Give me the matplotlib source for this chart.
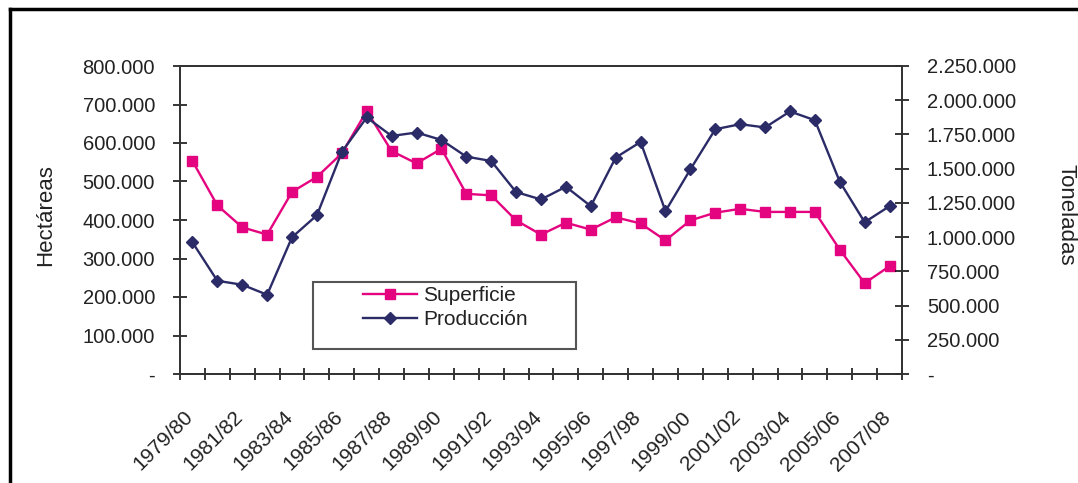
import matplotlib
matplotlib.use("Agg")
import matplotlib.pyplot as plt
from matplotlib.lines import Line2D
from matplotlib.patches import Rectangle
from matplotlib.transforms import ScaledTranslation
import numpy as np

# campañas 1979/80 .. 2007/08
seasons = [f"{y}/{str(y + 1)[-2:]}" for y in range(1979, 2008)]

# superficie (ha), eje izquierdo
superficie = [553000, 438000, 381000, 362000, 473000, 512000, 573000, 683000,
              579000, 547000, 585000, 468000, 464000, 399000, 362000,
              393000, 375000, 407000, 391000, 347000, 399000, 419000,
              429000, 421000, 421000, 421000, 323000, 236000, 280000]

# producción (t), eje derecho
produccion = [962000, 681000, 652000, 579000, 999000, 1160000, 1622000, 1874000,
              1739000, 1764000, 1710000, 1588000, 1556000, 1329000, 1275000,
              1368000, 1226000, 1581000, 1695000, 1190000, 1495000, 1788000,
              1825000, 1801000, 1918000, 1854000, 1405000, 1109000, 1226000]

PINK = "#E5047F"
NAVY = "#2B2B68"
TXT = "#222222"

plt.rcParams["font.family"] = ["Liberation Sans", "DejaVu Sans"]


def miles(v, pos=None):
    if v == 0:
        return "-"
    return f"{int(round(v)):,}".replace(",", ".")


fig = plt.figure(figsize=(10.78, 4.83), dpi=100)
ax = fig.add_axes([180 / 1078, 1 - 374 / 483, 722 / 1078, 308 / 483])
ax2 = ax.twinx()

x = np.arange(len(seasons))
ax.plot(x, superficie, color=PINK, lw=1.7, marker="s", ms=6.5, zorder=3)
ax2.plot(x, produccion, color=NAVY, lw=1.7, marker="D", ms=6.5, zorder=3)

ax.set_xlim(-0.5, len(seasons) - 0.5)
ax.set_ylim(0, 800000)
ax2.set_ylim(0, 2250000)

ax.set_yticks(np.arange(0, 800001, 100000))
ax2.set_yticks(np.arange(0, 2250001, 250000))
ax.yaxis.set_major_formatter(plt.FuncFormatter(miles))
ax2.yaxis.set_major_formatter(plt.FuncFormatter(miles))

# ticks between categories, labels on every other season
ax.set_xticks(np.arange(-0.5, len(seasons), 1))
ax.set_xticklabels([])
ax.set_xticks(x[::2], minor=True)
ax.set_xticklabels(seasons[::2], minor=True, rotation=45, ha="right",
                   va="top", rotation_mode="anchor", fontsize=15, color=TXT)
ax.tick_params(axis="x", which="minor", length=0, pad=24)
ax.tick_params(axis="x", which="major", direction="inout", length=9, width=1.1)
shift = ScaledTranslation(-0.09, 0, fig.dpi_scale_trans)
for lab in ax.get_xticklabels(minor=True):
    lab.set_transform(lab.get_transform() + shift)

ax.tick_params(axis="y", direction="inout", length=10, width=1.1, pad=13,
               labelsize=14.5, labelcolor=TXT)
ax2.tick_params(axis="y", direction="inout", length=10, width=1.1, pad=13,
                labelsize=14.5, labelcolor=TXT)

for a in (ax, ax2):
    for s in a.spines.values():
        s.set_color("#333333")
        s.set_linewidth(1.3)

ax.set_ylabel("Hectáreas", fontsize=16, color=TXT)
ax.yaxis.set_label_coords(-0.172, 0.516)
ax2.set_ylabel("Toneladas", fontsize=16, color=TXT, rotation=-90, va="center")
ax2.yaxis.set_label_coords(1.227, 0.516)

handles = [Line2D([], [], color=PINK, lw=1.7, marker="s", ms=6.5),
           Line2D([], [], color=NAVY, lw=1.7, marker="D", ms=6.5)]
ax2.legend(handles, ["Superficie", "Producción"], loc="upper left",
           bbox_to_anchor=((363 - 180) / 722, (374 - 286) / 308),
           frameon=False, borderpad=0, borderaxespad=0, fontsize=15,
           handlelength=2.6, handletextpad=0.3, labelspacing=0.25,
           labelcolor=TXT)
ax2.add_patch(Rectangle(((313 - 180) / 722, (374 - 349) / 308), 263 / 722, 67 / 308,
                        transform=ax2.transAxes, fill=False, edgecolor="#555555",
                        lw=1.5, zorder=4))

# marco de la figura (arriba e izquierda)
fig.add_artist(Line2D([10 / 1078, 1], [1 - 9 / 483, 1 - 9 / 483], color="black", lw=2.5))
fig.add_artist(Line2D([10 / 1078, 10 / 1078], [0, 1 - 9 / 483], color="black", lw=2.5))

fig.savefig("out.png", dpi=100)
